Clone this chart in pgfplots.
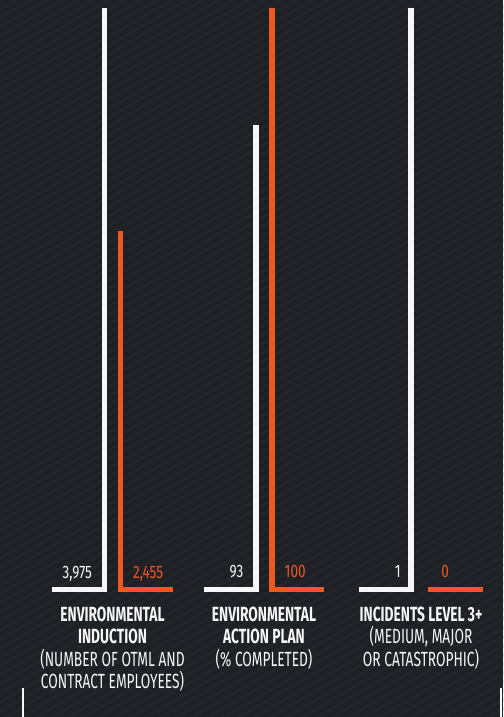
\documentclass[border=0pt]{standalone}
\usepackage{fontspec}
\usepackage{pgfplots}
\pgfplotsset{compat=1.18}
\setmainfont{Fira Sans}
\newfontfamily\hdfont{Fira Sans}[FakeStretch=0.67]
\newfontfamily\valfont{Fira Sans}[FakeStretch=0.75]

\definecolor{bgdark}{RGB}{30,32,37}
\definecolor{bgstripe}{RGB}{34,36,41}
\definecolor{otorange}{RGB}{240,88,34}
\definecolor{otwhite}{RGB}{246,246,246}

\pgfplotsset{
  panel/.style={
    scale only axis, width=160pt, height=581.2pt,
    xmin=-1, xmax=1, clip=false,
    axis line style={draw=none}, ytick=\empty, xtick={0},
    major tick length=0pt,
    xticklabel style={font=\hdfont\fontsize{20.5}{22.5}\selectfont,
      text=otwhite, align=center, anchor=north, inner sep=0pt, yshift=-17pt},
  },
  foot/.style={line width=5.5pt, line cap=butt, line join=miter, mark=none},
}
\tikzset{
  lbl/.style={font=\valfont\fontsize{18}{20}\selectfont, inner sep=0pt, yshift=11.5pt},
}

\begin{document}
\begin{tikzpicture}
\useasboundingbox (0,0) rectangle (503pt,717pt);
\fill[bgdark] (0,0) rectangle (503pt,717pt);
\begin{scope}
  \clip (0,0) rectangle (503pt,717pt);
  \foreach \i in {-36,...,82}
    \draw[bgstripe, line width=3.5pt] (-10pt,\i*9pt) -- ++(30:620pt);
\end{scope}

% Environmental induction
\begin{axis}[panel, at={(32.5pt,127.5pt)}, anchor=south west, ymin=0, ymax=3975,
  xticklabels={{{\bfseries ENVIRONMENTAL}\\{\bfseries INDUCTION}\\(NUMBER OF OTML AND\\CONTRACT EMPLOYEES)}}]
  \addplot[foot, otwhite]  coordinates {(-0.756,0) (-0.1,0) (-0.1,3975)};
  \addplot[foot, otorange] coordinates {(0.1,2455) (0.1,0) (0.756,0)};
  \node[lbl, anchor=base east, text=otwhite, xshift=-12.5pt] at (axis cs:-0.1,0) {3,975};
  \node[lbl, anchor=base west, text=otorange, xshift=12.5pt] at (axis cs:0.1,0) {2,455};
\end{axis}

% Environmental action plan (% completed)
\begin{axis}[panel, at={(184pt,127.5pt)}, anchor=south west, ymin=65, ymax=100,
  xticklabels={{{\bfseries ENVIRONMENTAL}\\{\bfseries ACTION PLAN}\\(\% COMPLETED)}}]
  \addplot[foot, otwhite]  coordinates {(-0.756,65) (-0.1,65) (-0.1,93)};
  \addplot[foot, otorange] coordinates {(0.1,100) (0.1,65) (0.756,65)};
  \node[lbl, anchor=base east, text=otwhite, xshift=-12.5pt] at (axis cs:-0.1,65) {93};
  \node[lbl, anchor=base west, text=otorange, xshift=12.5pt] at (axis cs:0.1,65) {100};
\end{axis}

% Incidents level 3+
\begin{axis}[panel, at={(341pt,127.5pt)}, anchor=south west, ymin=0, ymax=1,
  xticklabels={{{\bfseries INCIDENTS LEVEL 3+}\\(MEDIUM{,} MAJOR\\OR CATASTROPHIC)}}]
  \addplot[foot, otwhite]  coordinates {(-0.781,0) (-0.125,0) (-0.125,1)};
  \addplot[foot, otorange] coordinates {(0.09,0) (0.78,0)};
  \node[lbl, anchor=base east, text=otwhite, xshift=-10pt] at (axis cs:-0.125,0) {1};
  \node[lbl, anchor=base west, text=otorange, xshift=13pt] at (axis cs:0.09,0) {0};
\end{axis}

\draw[otwhite, line width=1.8pt] (22.7pt,0) -- (22.7pt,29pt);
\draw[otwhite, line width=1.8pt] (501pt,0) -- (501pt,29pt);
\end{tikzpicture}
\end{document}
